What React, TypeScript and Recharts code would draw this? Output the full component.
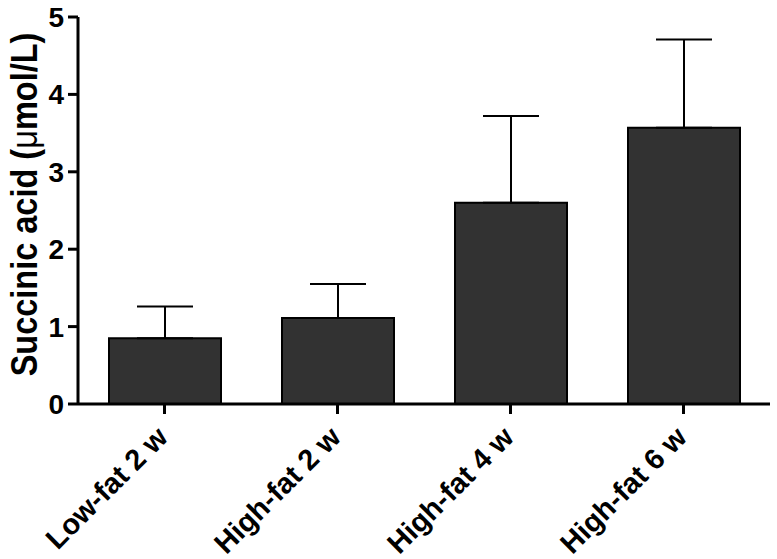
import { BarChart, Bar, XAxis, YAxis, ErrorBar } from 'recharts';

const GROUPS = ['Low-fat 2 w', 'High-fat 2 w', 'High-fat 4 w', 'High-fat 6 w'];
const MEANS = [0.85, 1.11, 2.6, 3.57];
const SD_UP = [0.41, 0.44, 1.12, 1.14];
const Y_TICKS = [0, 1, 2, 3, 4, 5];

const FONT = '"Liberation Sans", Arial, sans-serif';

const data = GROUPS.map((name, i) => ({
  name,
  value: MEANS[i],
  err: [0, SD_UP[i]],
}));

function RotatedTick(props: any) {
  const { x, y, payload } = props;
  return (
    <g transform={`translate(${x + 5},${y + 23}) rotate(-45)`}>
      <text
        x={0}
        y={0}
        textAnchor="end"
        fill="#000"
        fontFamily={FONT}
        fontWeight="bold"
        fontSize={29}
      >
        {payload.value}
      </text>
    </g>
  );
}

function YLabel(props: any) {
  const { viewBox } = props;
  const cx = 37;
  const cy = viewBox.y + viewBox.height / 2 - 6;
  return (
    <text
      x={0}
      y={0}
      transform={`translate(${cx},${cy}) scale(1.15,1) rotate(-90)`}
      textAnchor="middle"
      fill="#000"
      fontFamily={FONT}
      fontWeight="bold"
      fontSize={32.5}
    >
      Succinic acid (<tspan fontWeight="normal">μ</tspan>mol/L)
    </text>
  );
}

export default function App() {
  return (
    <div style={{ position: 'absolute', left: 0, top: 0, background: '#fff' }}>
      <BarChart
        width={777}
        height={559}
        data={data}
        margin={{ top: 17, right: 7, left: 0, bottom: 0 }}
      >
        <XAxis
          dataKey="name"
          height={155}
          interval={0}
          tickSize={10}
          tick={<RotatedTick />}
          axisLine={{ stroke: '#000', strokeWidth: 3 }}
          tickLine={{ stroke: '#000', strokeWidth: 3 }}
        />
        <YAxis
          width={78}
          domain={[0, 5]}
          ticks={Y_TICKS}
          interval={0}
          tickSize={10}
          tickMargin={4}
          axisLine={{ stroke: '#000', strokeWidth: 3 }}
          tickLine={{ stroke: '#000', strokeWidth: 3 }}
          tick={{ fill: '#000', fontFamily: FONT, fontWeight: 'bold', fontSize: 28 }}
          label={<YLabel />}
        />
        <Bar
          dataKey="value"
          barSize={112}
          fill="#323232"
          stroke="#000"
          strokeWidth={2}
          isAnimationActive={false}
        >
          <ErrorBar dataKey="err" width={28} stroke="#000" strokeWidth={2} direction="y" />
        </Bar>
      </BarChart>
    </div>
  );
}
